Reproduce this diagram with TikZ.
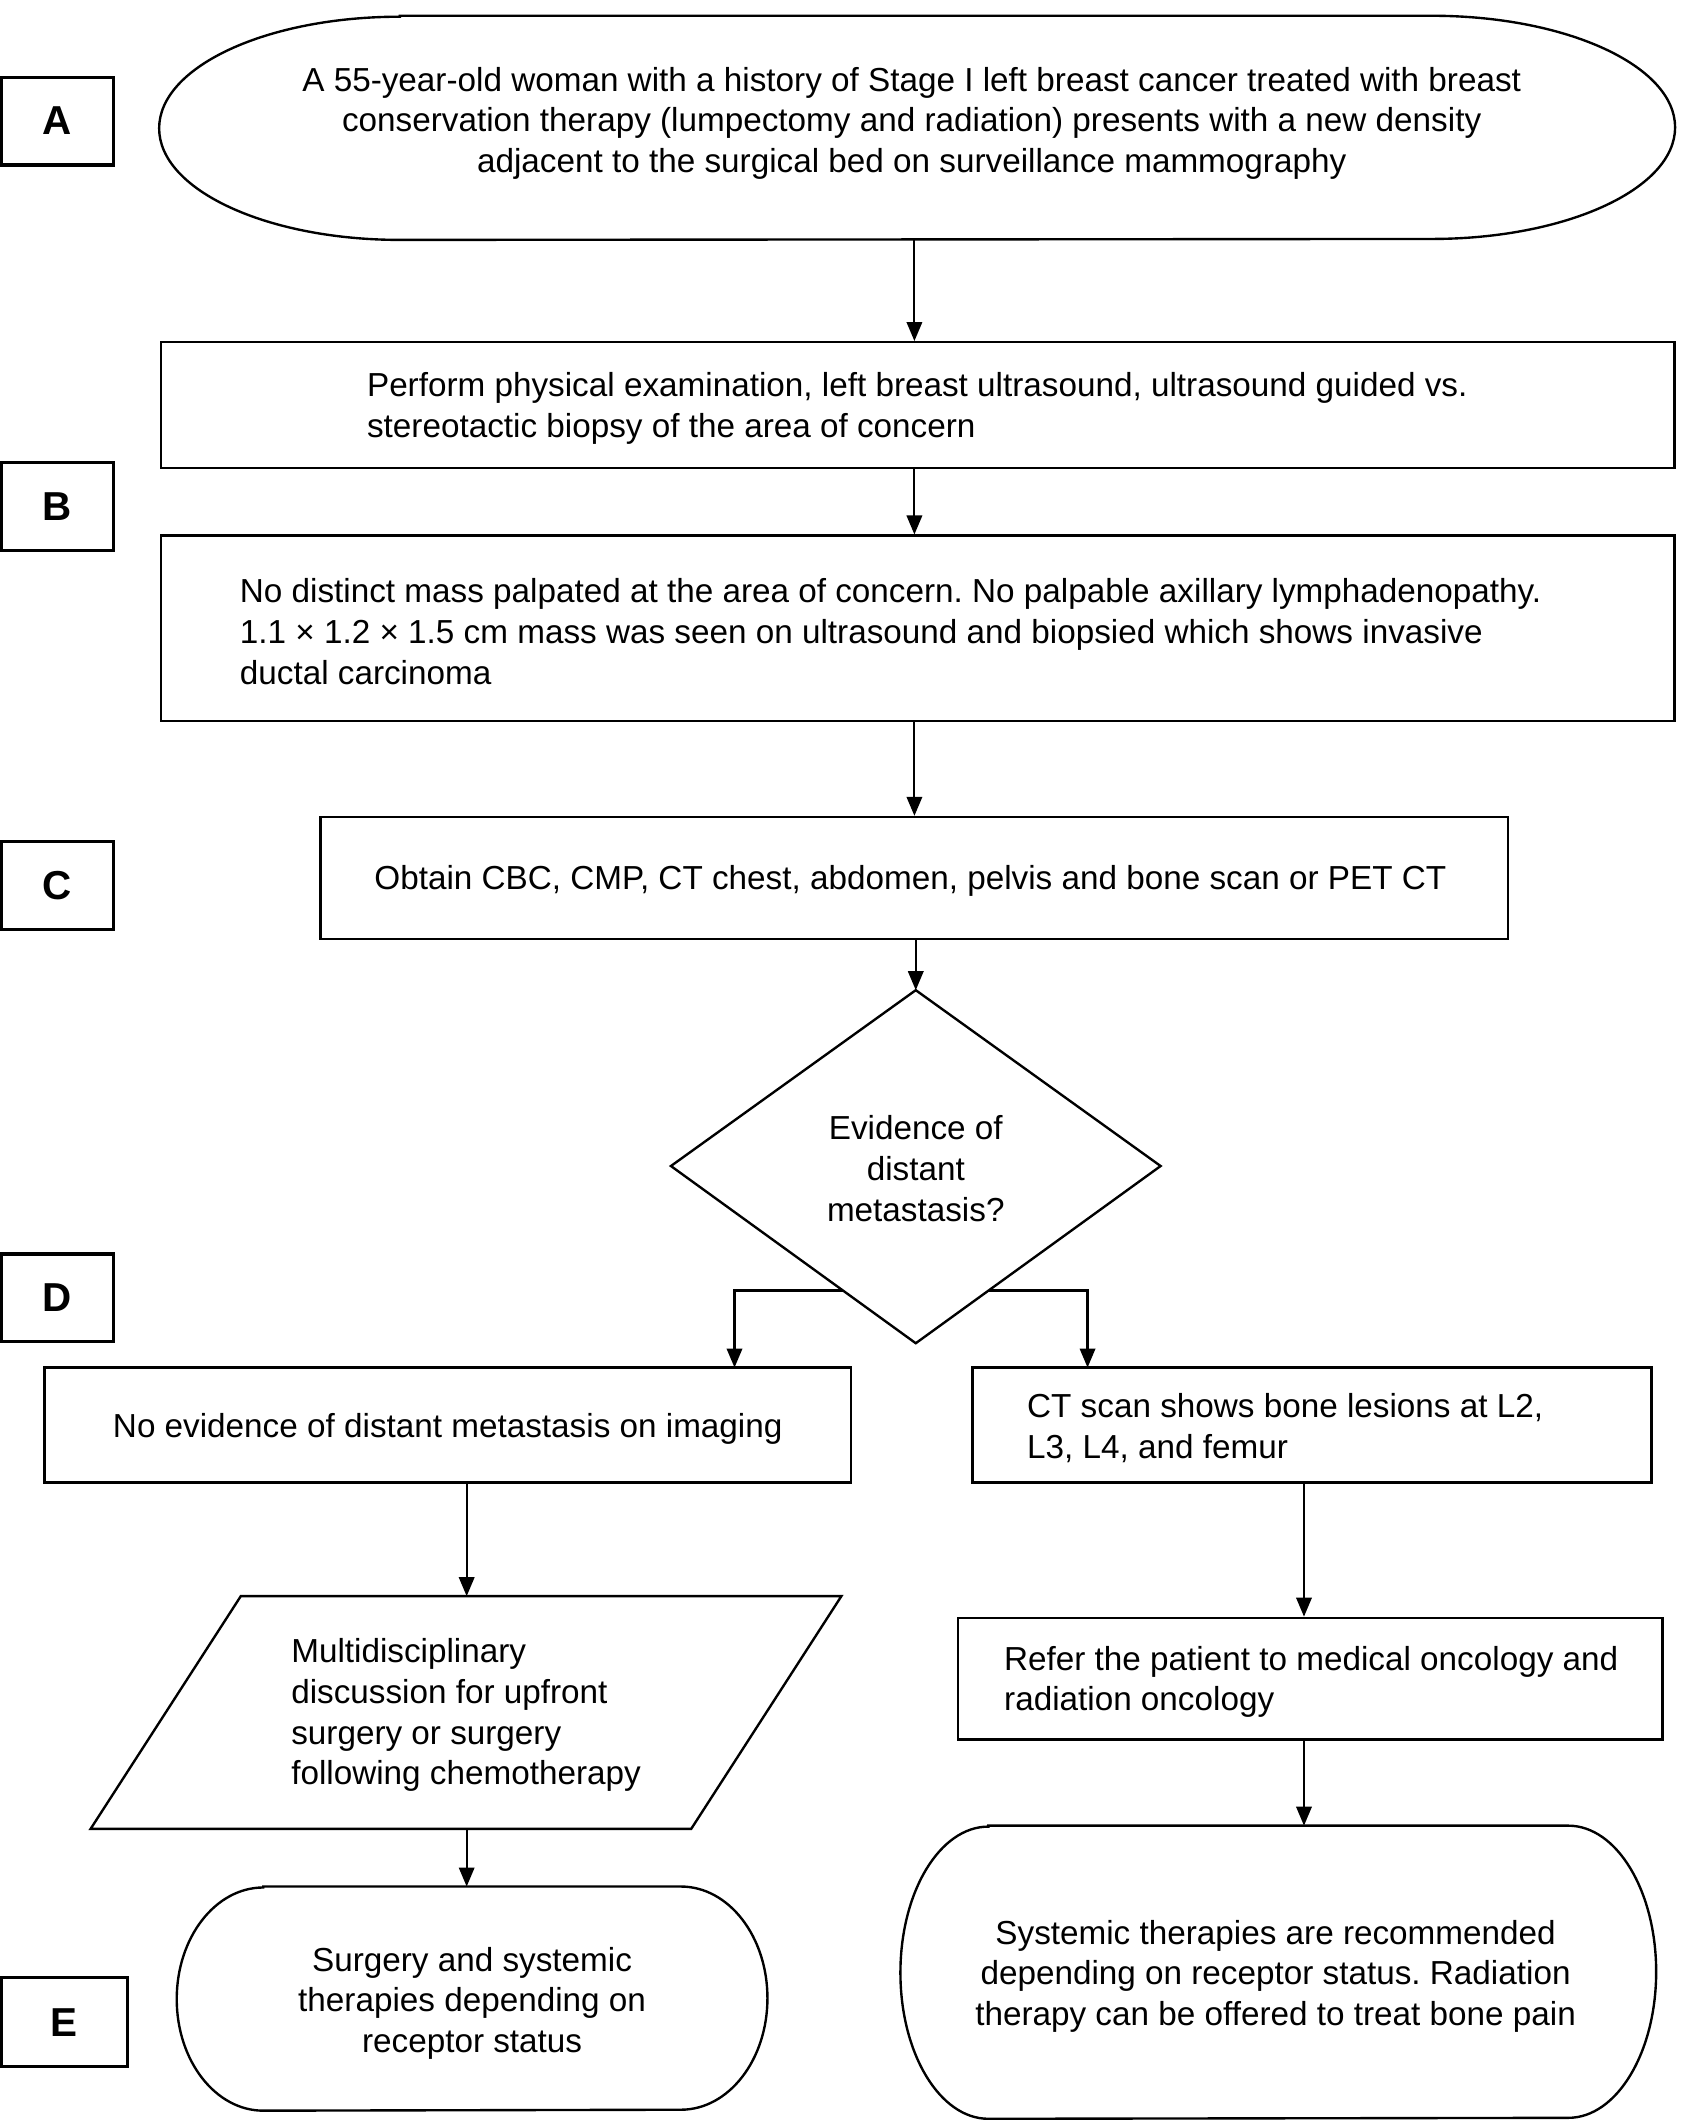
\documentclass[tikz,border=0pt]{standalone}
\usepackage{fontspec}
\setmainfont{Liberation Sans}
\usetikzlibrary{arrows.meta,fit,calc}
\frenchspacing
\begin{document}
\begin{tikzpicture}[x=0.02cm,y=-0.02cm,
  txt/.style={font=\fontsize{14}{17.1}\selectfont, inner sep=0pt, align=left, yshift=-0.04cm},
  ctxt/.style={txt, align=center},
  boxn/.style={draw, line width=1pt, inner sep=0pt},
  hold/.style={inner sep=0pt},
  lab/.style={draw, line width=1.3pt, inner sep=0pt, minimum width=1.66cm, minimum height=1.3cm, font=\fontsize{17}{18}\selectfont\bfseries},
  arr/.style={-{Triangle[length=8pt,width=6.5pt]}, line width=0.9pt},
  outl/.style={line width=1pt}]
\useasboundingbox (0,0) rectangle (1244,1568);

% side labels
\node[lab] (la) at (42.5,89.5) {A};
\node[lab] (lb) at (42.5,374.5) {B};
\node[lab] (lc) at (42.5,654.5) {C};
\node[lab] (ld) at (42.5,959.5) {D};
\node[lab, minimum width=1.86cm, minimum height=1.32cm] (le) at (47.5,1495) {E};

% A terminal
\node[hold, fit={(296,12) (1058,177)}] (ta) {};
\draw[outl] (ta.north west) -- (ta.north east)
  arc[start angle=-90, end angle=90, x radius=180, y radius=82.5]
  -- (ta.south west)
  arc[start angle=90, end angle=270, x radius=178, y radius=82.5] -- cycle;
\node[ctxt] (tat) at (674,89) {A 55-year-old woman with a history of Stage I left breast cancer treated with breast\\conservation therapy (lumpectomy and radiation) presents with a new density\\adjacent to the surgical bed on surveillance mammography};

% B boxes
\node[boxn, fit={(119,253) (1238,346)}] (b1) {};
\node[txt, anchor=west] (b1t) at (271,300) {Perform physical examination, left breast ultrasound, ultrasound guided vs.\\stereotactic biopsy of the area of concern};
\node[boxn, fit={(119,396) (1238,533)}] (b2) {};
\node[txt, anchor=west] (b2t) at (177,465) {No distinct mass palpated at the area of concern. No palpable axillary lymphadenopathy.\\1.1 × 1.2 × 1.5 cm mass was seen on ultrasound and biopsied which shows invasive\\ductal carcinoma};

% C box
\node[boxn, fit={(237,604) (1115,694)}] (c) {};
\node[txt] (ct) at (673,649) {Obtain CBC, CMP, CT chest, abdomen, pelvis and bone scan or PET CT};

% diamond
\coordinate (dT) at (677,732);
\coordinate (dL) at (496,862);
\coordinate (dR) at (858,862);
\coordinate (dB) at (677,993);
\draw[outl] (dT) -- (dR) -- (dB) -- (dL) -- cycle;
\node[ctxt] (dtx) at (677,862) {Evidence of\\distant\\metastasis?};
\coordinate (bl) at (623,954);
\coordinate (br) at (731,954);

% D boxes
\node[boxn, fit={(33,1011) (629,1096)}] (dl) {};
\node[txt] (dlt) at (331,1054) {No evidence of distant metastasis on imaging};
\node[boxn, fit={(719,1011) (1221,1096)}] (dr) {};
\node[txt, anchor=west] (drt) at (759,1053.5) {CT scan shows bone lesions at L2,\\L3, L4, and femur};

% parallelogram
\coordinate (p1) at (178,1180);
\coordinate (p2) at (622,1180);
\coordinate (p3) at (511,1352);
\coordinate (p4) at (67,1352);
\draw[outl] (p1) -- (p2) -- (p3) -- (p4) -- cycle;
\node[txt, anchor=west] (pt) at (215,1266) {Multidisciplinary\\discussion for upfront\\surgery or surgery\\following chemotherapy};
\coordinate (ptop) at (345,1180);
\coordinate (pbot) at (345,1352);

% right box 2
\node[boxn, fit={(708,1196) (1229,1286)}] (r2) {};
\node[txt, anchor=west] (r2t) at (742,1241.5) {Refer the patient to medical oncology and\\radiation oncology};

% E terminals
\node[hold, fit={(195,1395) (503,1560)}] (el) {};
\draw[outl] (el.north west) -- (el.north east)
  arc[start angle=-90, end angle=90, x radius=64, y radius=82.5]
  -- (el.south west)
  arc[start angle=90, end angle=270, x radius=64, y radius=82.5] -- cycle;
\node[ctxt] (elt) at (349,1479) {Surgery and systemic\\therapies depending on\\receptor status};

\node[hold, fit={(731,1350) (1159,1566)}] (er) {};
\draw[outl] (er.north west) -- (er.north east)
  arc[start angle=-90, end angle=90, x radius=65, y radius=108]
  -- (er.south west)
  arc[start angle=90, end angle=270, x radius=65, y radius=108] -- cycle;
\node[ctxt] (ert) at (943,1459) {Systemic therapies are recommended\\depending on receptor status. Radiation\\therapy can be offered to treat bone pain};

% connectors
\coordinate (colx) at (676,0);
\draw[arr] (ta.south -| colx) -- (b1.north -| colx);
\draw[arr] (b1.south -| colx) -- (b2.north -| colx);
\draw[arr] (b2.south -| colx) -- (c.north -| colx);
\draw[arr] (c.south -| dT) -- (dT);
\coordinate (blend) at (543,1011);
\coordinate (brend) at (804,1011);
\draw[arr] (bl) -| (blend);
\draw[arr] (br) -| (brend);
\draw[arr] (dl.south -| ptop) -- (ptop);
\draw[arr] (pbot) -- (el.north -| pbot);
\coordinate (rcol) at (964,0);
\draw[arr] (dr.south -| rcol) -- (r2.north -| rcol);
\draw[arr] (r2.south -| rcol) -- (er.north -| rcol);
\end{tikzpicture}
\end{document}
